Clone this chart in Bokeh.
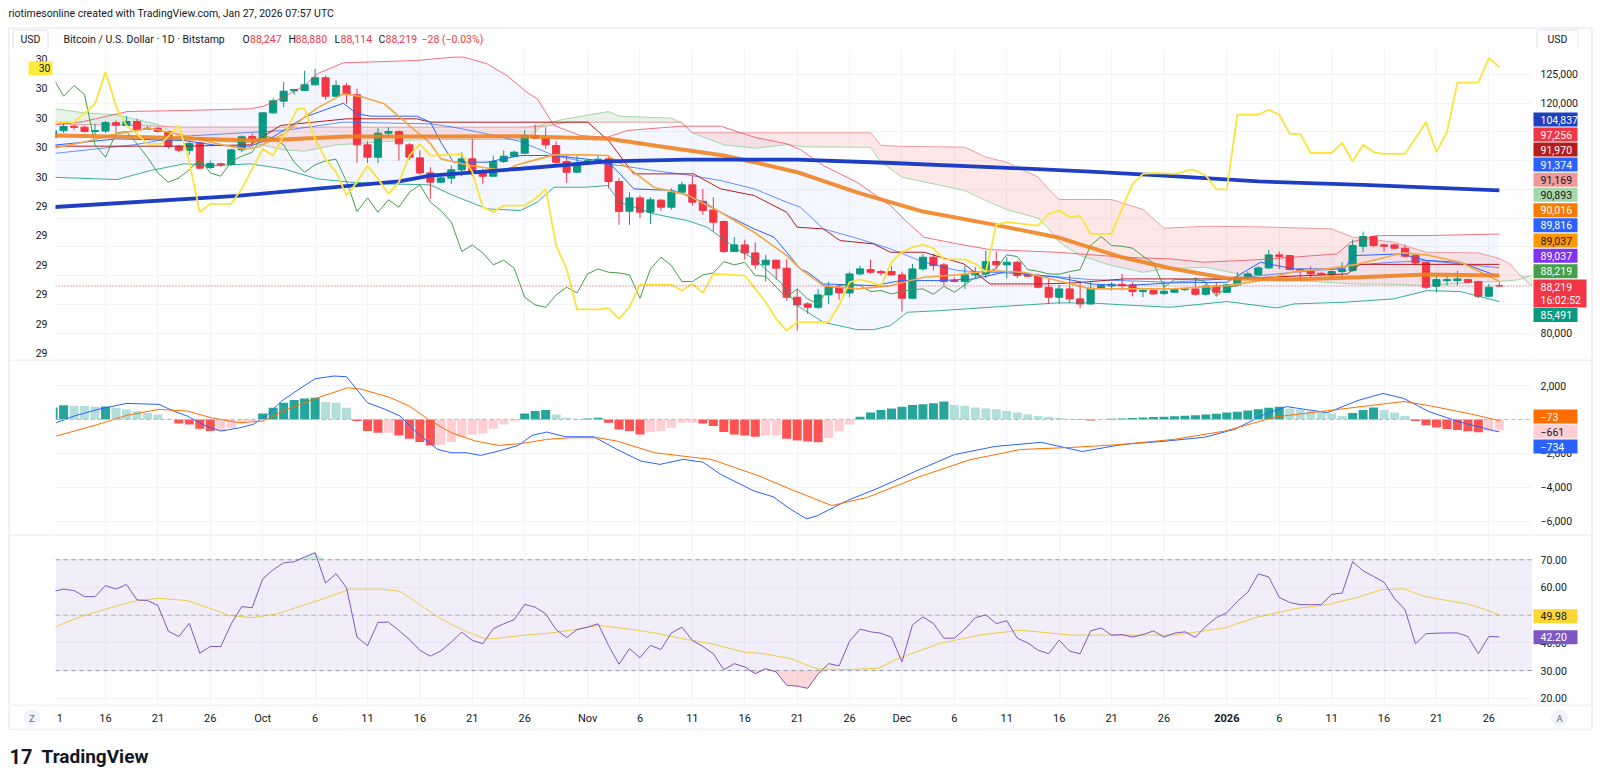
import numpy as np
from bokeh.plotting import figure
from bokeh.models import Range1d, FixedTicker, Span, Grid, BoxAnnotation
from bokeh.layouts import column, row
from bokeh.embed import file_html
from bokeh.resources import INLINE
from bokeh.core.properties import value

# ---------------- DATA (day index 0 = 11 Sep 2025 ... 138 = 27 Jan 2026) ----------------
opens = [
114000,115250,116000,115830,115100,115150,116600,116120,116820,115450,
115650,115080,112520,111800,113100,108810,109450,109330,111890,114200,
113920,118320,120350,122150,122210,123200,124410,121220,123020,121460,
112760,110610,114790,115080,112760,110490,107880,106260,106960,108410,
110320,108170,107300,109860,110780,111300,114380,113920,112640,109860,
108000,109620,109860,110320,106380,101210,103530,101040,103130,101910,
104520,105800,102950,101440,99420,94200,95360,93960,91880,92690,
91300,86250,85090,84510,86660,87990,87000,90310,91060,90720,
90720,90140,86080,91180,93210,91880,89210,88980,90140,90310,
92460,91880,92340,90310,90020,87990,86250,87700,85960,85090,
87820,88220,88510,88400,87240,87410,86900,87120,87580,87700,
86770,88160,87120,88400,89560,90200,91350,93620,93500,91060,
90830,90430,90140,90720,90890,95120,96810,95360,95360,94780,
93500,92340,88160,89150,89150,89320,88980,86420,88247]
highs = [
115300,116400,116250,116100,116400,116900,116990,117740,117280,116000,
115900,115150,112760,113510,113100,110030,109620,112060,114380,114730,
118440,120880,123660,122500,125630,125980,124820,123950,123540,122500,
113340,115660,115830,115250,113100,111770,108870,107300,109160,111480,
113800,108580,110900,111770,111770,115250,116240,115830,113340,111190,
110900,110320,110900,110610,106960,104520,103940,103650,103360,105220,
106380,107420,105100,103650,99590,96690,96280,95820,93620,92800,
92920,87700,85380,87700,88980,88280,90720,91760,92800,91060,
91640,90720,92050,93790,93790,92220,89730,91640,91470,94370,
94200,93210,92630,90600,90310,89560,88400,90140,88980,88860,
88400,88860,90310,88860,87700,87700,89000,87700,87900,89730,
88860,88860,88570,90600,90720,91640,94540,94200,93620,91300,
91640,90600,90890,92340,96280,97680,96980,95530,95530,95360,
93620,92460,90310,90020,90890,89440,89150,88570,88880]
lows = [
113700,114850,115300,114900,114400,114800,114850,116000,115250,115420,
114900,112060,111480,111020,108580,108580,108930,109160,111480,112520,
113800,118150,119310,121460,122150,123080,120640,121050,119890,109620,
109620,109620,114090,110030,110150,107540,103360,106090,105970,107300,
107300,105970,107130,109620,110610,111190,113900,112060,109160,106140,
107880,109450,109620,105220,98840,98840,100000,98990,101330,101500,
104400,102200,100580,97680,93960,94080,92800,91180,88980,89320,
85670,80450,83350,84220,85090,85840,86250,90020,90310,90020,
90020,83760,85960,90890,90890,88280,88860,87700,89560,89560,
91180,89560,89560,89730,87820,85090,85090,85260,84340,84920,
87700,87410,87410,86420,86250,86660,86600,87000,87350,86540,
86540,86540,87000,88280,89320,90020,91180,91180,90890,89150,
89560,90020,89900,90020,90720,94080,94950,94200,94660,93210,
91880,87700,87120,88280,88280,88740,86080,86250,88114]
closes = [
115200,115950,115800,115080,115250,116640,116180,116820,115420,115650,
115080,112520,111830,112990,108700,109510,109280,111890,114150,113800,
118320,120410,122090,122380,123200,124410,121220,123080,121510,112760,
110610,114790,115080,112930,110610,107880,106260,107010,108410,110320,
107880,107300,109860,110780,111480,114380,113920,112760,109740,107990,
109280,109970,110260,106380,101160,103530,101040,103190,101910,104520,
105800,102780,101330,99300,94200,95360,93960,91880,92690,91300,
86250,84920,84510,86660,87990,87000,90310,91180,90600,90480,
90140,86080,91180,93210,91760,88980,88980,90140,90480,92460,
91880,92340,90020,89900,87990,86250,87700,85960,85090,87820,
88280,88510,88280,87240,87410,86830,87300,87580,87700,86770,
88160,87120,88400,89730,90310,91350,93620,93330,91060,90770,
90310,90250,90720,91060,95240,96810,95240,95120,94780,93380,
92220,87990,89320,89320,89440,88860,86420,87990,88219]

# SMA 200 (thick blue) / SMA 50 (thick orange) / short MA (thin orange)
sma200_i = [-0.25, 17.6, 33, 36, 44.6, 52.9, 60.5, 71, 80, 89.4, 99, 106, 115, 125, 138]
sma200_v = [101900, 103900, 106400, 107400, 108600, 109900, 110200, 110200, 109600, 108900, 108100, 107400, 106400, 105800, 104837]
sma50_i = [-0.25, 9, 19, 22, 28, 36, 44.6, 53, 57.5, 64, 67, 71, 76.7, 83, 89.4, 95.8, 102, 106.6, 112, 118, 124.7, 131, 138]
sma50_v = [114400, 114100, 113500, 113700, 114200, 114200, 114260, 113800, 112600, 110900, 109700, 108000, 104500, 101150, 99010, 96700, 93200, 91300, 89560, 89330, 89730, 90190, 90016]
ma_i = [-0.25, 2.9, 6.1, 9.3, 12.5, 15.7, 18.2, 19.5, 22, 24, 25.2, 27.7, 29.6, 31.6, 34.7, 36, 37, 39.8, 43, 44.6,
        47.8, 50.9, 52.9, 54.8, 57.3, 60.5, 63.7, 66.9, 70, 71.3, 73.5, 76.7, 79.9, 83.1, 86.3, 89.4, 92.6, 95.8, 99, 106.6,
        112, 115.2, 118.4, 121.6, 124.1, 126.3, 128.8, 131.1, 134.3, 138]
ma_v = [112060, 113220, 114670, 115656, 114380, 112930, 112060, 112350, 114670, 117570, 119136, 121630, 121050, 119890, 115000, 113000, 110320, 109160, 108290, 109450,
        111016, 111016, 110900, 108870, 105390, 104056, 101040, 97560, 93500, 91180, 88280, 87700, 88280, 89730, 90136, 90890, 90600, 89150, 87700, 87700,
        88280, 89150, 90716, 91180, 91876, 92804, 93964, 93616, 92340, 89037]

# Bollinger Bands
bbu_i = [-0.25, 2.9, 7.1, 12.5, 18.8, 20.1, 22, 24, 25.2, 27.7, 34.7, 38.2, 39.2, 41.4, 43.3, 45.2, 46.2, 47.8, 50.3, 52.9,
         54.8, 59.9, 63.7, 66.9, 70, 71.3, 73.5, 76.7, 79.9, 81.5, 83.1, 86.3, 89.4, 95.8, 102.2, 106.6, 109.8, 115.2, 122.5, 123.8,
         126.3, 131.1, 138]
bbu_v = [116120, 116816, 118556, 118730, 119020, 119484, 121050, 123080, 125110, 127024, 127430, 128010, 128010, 126850, 124820, 121920, 120760, 116120, 114380, 114090,
         115250, 116000, 116000, 114090, 112930, 111944, 109160, 106260, 102200, 99300, 96690, 95530, 94544, 94080, 93210, 92920, 92340, 92804, 93790, 95820,
         96980, 96980, 97256]
bbm_i = [-0.25, 7.7, 12.5, 22, 27.7, 36, 38.2, 41.4, 44.6, 47.8, 50.9, 54.1, 57.3, 60.5, 63.7, 66.9, 70, 71.3, 73.5, 76.7,
         79.9, 83.1, 86.3, 92.6, 99, 106.6, 112, 118.4, 122.5, 123.5, 127.9, 131.1, 138]
bbm_v = [111190, 112756, 114264, 115250, 116700, 116410, 115830, 114670, 113336, 110900, 109740, 109160, 108290, 107536, 106550, 105100, 102780, 101910, 98140, 96516,
         94660, 92340, 90890, 90310, 89324, 88860, 89440, 90600, 91180, 91760, 92340, 92630, 91374]
bbl_i = [-0.25, 6.1, 9.3, 12.5, 15.7, 18.8, 22, 25.2, 28.4, 31.6, 36, 38.2, 41.4, 44.6, 46.2, 47.8, 50.9, 52.9, 54.1, 57.3,
         60.5, 62.4, 63.7, 65.2, 66.9, 69.4, 71, 73.5, 76.7, 78.3, 79.9, 81.5, 84.7, 89.4, 95.8, 99, 102.2, 106.6, 112, 116.8,
         118.4, 123.2, 127.9, 131.1, 134.3, 138]
bbl_v = [107130, 106724, 108290, 109450, 109160, 109450, 108580, 106840, 106260, 105970, 105796, 103940, 101620, 101330, 102780, 105390, 105390, 105680, 102780, 100750,
         99590, 98430, 96690, 94660, 92920, 88860, 84800, 81900, 80624, 80624, 81320, 83640, 83930, 84510, 85264, 85264, 84916, 84510, 85496, 84394,
         85090, 85380, 85960, 87410, 87236, 85491]

# Ichimoku
tenkan_i = [-0.25, 6.1, 12.5, 15.7, 18.8, 20.7, 24, 27.7, 29, 30.3, 34.7, 36, 37, 38.2, 41.4, 44.6, 47.8, 52.9, 54.1, 55.4,
            59.2, 62.1, 63.7, 66.9, 68.8, 70, 71.3, 72, 73.5, 78.3, 80.9, 84.7, 87.9, 91, 92.6, 95.8, 99, 102.2, 106.6, 112,
            115.2, 118.4, 123.2, 124.1, 128.6, 131.1, 134.3, 138]
tenkan_v = [112640, 113800, 113510, 112640, 112524, 113800, 117570, 120006, 118150, 117744, 117744, 116700, 113220, 109740, 109740, 110900, 110900, 109856, 107710, 105100,
            104810, 102780, 101040, 98140, 96690, 94080, 91180, 90600, 88570, 88280, 89150, 89150, 89440, 90716, 90310, 89730, 88570, 88280, 88744, 88860,
            92340, 91180, 91180, 93500, 93790, 92630, 92340, 89816]
kijun_i = [-0.25, 12.5, 18.8, 21.7, 28, 34.7, 36, 51, 53, 55.4, 61.1, 63.7, 66.9, 70, 71, 73.5, 75.1, 78.3, 79.9, 83.1,
           86.9, 89.4, 94.5, 97.4, 102.2, 112, 123.5, 124.7, 138]
kijun_v = [112524, 112524, 112756, 116120, 117280, 117280, 116700, 116700, 113510, 107710, 107710, 105100, 103940, 101040, 98430, 98140, 96110, 95530, 94080, 94080,
           92050, 88570, 88570, 88744, 89440, 89440, 90310, 91970, 91970]
cloud_i = [0, 3, 6, 10, 12, 16, 19, 22, 24, 27, 30, 33, 36, 40, 45, 47, 49, 53, 54, 59,
           60, 61, 64, 67, 70, 72, 78, 79, 81, 87, 89, 91, 94, 95, 96, 98, 99, 101, 104, 106,
           110, 115, 122, 124, 128, 131, 136, 138, 139, 140, 141, 142]
span_a = [119100, 118300, 118000, 116300, 114300, 113300, 113100, 111900, 111650, 112750, 113100, 113500, 113700, 113700, 113700, 116500, 117300, 118550, 117750, 117400,
          116500, 114850, 112750, 112180, 112800, 112400, 112350, 109740, 107130, 104810, 103070, 101504, 99996, 98140, 95820, 93500, 92920, 91760, 90600, 91200,
          91470, 89556, 88800, 88570, 88500, 88280, 88900, 89000, 89150, 89324, 90020, 90020]
span_b = [116400, 116300, 116200, 116000, 115830, 115830, 115830, 115830, 115830, 115830, 115830, 115830, 115830, 115830, 115830, 116000, 116700, 116700, 116700, 116700,
          116700, 114850, 114850, 114850, 114850, 114850, 114850, 112640, 112500, 112350, 110610, 109740, 107130, 105000, 103244, 103244, 103244, 103244, 101504, 98256,
          98600, 98500, 98140, 96690, 95820, 94080, 93964, 93000, 92050, 90020, 88396, 88000]
LAG = 25  # lagging span = closes shifted back 25 bars

# yellow overlay line (left scale)
yel_i = [-0.25, 2, 4, 5, 6.1, 7, 8, 9, 10.3, 12, 13, 14, 15, 17, 18, 20, 21, 22, 23.3, 24,
         25, 26, 27, 28, 29, 30, 31, 32, 33, 34, 35, 36, 38, 39, 40, 41, 42, 43, 45, 46,
         47, 48, 49, 50, 52, 53, 54, 55, 56, 59, 60, 61, 62, 63, 66, 67, 68, 69, 70, 71,
         74, 75, 76, 77, 78, 79, 80, 81, 82, 83, 84, 85, 87, 88, 89, 90, 91, 94, 95, 96,
         97, 98, 99, 101, 102, 103, 104, 105, 107, 108.8, 110, 111, 112, 113, 115, 116, 117, 118, 119, 120,
         122, 123, 124, 125, 126, 127, 129, 130, 131, 132, 133, 134, 136, 137, 138]
yel_v = [30.185, 30.185, 30.247, 30.355, 30.230, 30.174, 30.145, 30.111, 30.111, 30.174, 30.049, 29.879, 29.907, 29.907, 29.958, 30.094, 30.071, 30.140, 30.230, 30.232,
         30.128, 30.060, 30.015, 29.935, 29.981, 30.037, 29.992, 29.941, 29.981, 30.071, 30.111, 30.071, 30.074, 30.077, 30.015, 29.896, 29.879, 29.901, 29.901, 29.924,
         29.958, 29.765, 29.686, 29.548, 29.548, 29.552, 29.516, 29.556, 29.632, 29.632, 29.612, 29.635, 29.604, 29.669, 29.663, 29.618, 29.573, 29.516, 29.476, 29.505,
         29.505, 29.561, 29.641, 29.650, 29.641, 29.629, 29.709, 29.743, 29.760, 29.768, 29.756, 29.718, 29.718, 29.703, 29.675, 29.836, 29.845, 29.833, 29.873, 29.884,
         29.862, 29.867, 29.805, 29.805, 29.890, 29.975, 30.009, 30.012, 30.009, 30.024, 30.003, 29.956, 29.956, 30.210, 30.210, 30.227, 30.210, 30.145, 30.145, 30.080,
         30.080, 30.115, 30.051, 30.108, 30.083, 30.077, 30.077, 30.130, 30.185, 30.083, 30.151, 30.319, 30.319, 30.403, 30.372]

# MACD
macd_i = [0.3, 2, 4.3, 7, 10.1, 11.5, 12.8, 14.6, 16, 17.8, 19.1, 20.5, 21.8, 23.2, 25, 26.8, 28, 30, 31.7, 33.1,
          34.9, 36.7, 38, 39.4, 40.8, 42.5, 44.4, 45.7, 47.1, 48.9, 51.6, 53.8, 56.1, 57.9, 60.1, 62, 63.7, 66.9, 68.7, 70.4,
          71.9, 72.9, 75.8, 78.7, 82.6, 86, 89.9, 94.3, 98.2, 102.1, 106, 109.9, 112.8, 115.7, 117.7, 121.6, 124.5, 126.9, 128.9, 131.3,
          134.2, 137.6, 138]
macd_v = [-197, 197, 590, 944, 885, 492, 197, -393, -688, -492, -295, 295, 1082, 1672, 2400, 2557, 2518, 984, 590, 197,
          -885, -1770, -1967, -1967, -2124, -1869, -1534, -944, -747, -1023, -1023, -1770, -2459, -2655, -2360, -2518, -3246, -4229, -4563, -5311,
          -5870, -5688, -4785, -4063, -2979, -2076, -1594, -1352, -1895, -1473, -1292, -1051, -572, 332, 755, 395, 1115, 1534, 1233, 454,
          -148, -690, -734]
signal_i = [0.3, 4.3, 7, 10.1, 12.8, 15.1, 17.8, 20, 22.3, 25, 28.1, 29.5, 32.2, 34, 35.8, 38, 40.3, 42.5, 44.8, 47.1,
            49.3, 52, 53.8, 57.4, 60.6, 62.8, 65.1, 67.4, 70.4, 74.3, 77.7, 82.6, 87.5, 92.3, 97.2, 102.1, 107, 111.8, 116.7, 121.6,
            126.4, 128.9, 131.3, 135.2, 138]
signal_v = [-984, -295, 236, 590, 492, 98, -197, -98, 590, 1220, 1869, 1770, 1279, 787, 0, -787, -1279, -1534, -1416, -1180,
            -1082, -1082, -1279, -1967, -2203, -2360, -2852, -3344, -4131, -5086, -4602, -3398, -2378, -1776, -1652, -1473, -1174, -690, 153, 513,
            873, 1056, 814, 332, -73]
hist = [
700, 830, 800, 787, 740, 760, 688, 590, 492, 393,
295, 20, -236, -295, -551, -688, -688, -492, -236, -98,
354, 688, 984, 1141, 1239, 1279, 1023, 984, 688, -98,
-688, -787, -787, -944, -1141, -1337, -1534, -1495, -1337, -1023,
-885, -826, -551, -295, -98, 354, 492, 551, 295, 98,
39, 59, 98, -197, -590, -688, -885, -747, -688, -492,
-197, -197, -236, -393, -747, -885, -944, -1023, -944, -944,
-1141, -1250, -1300, -1350, -1100, -700, -300, 150, 400, 550,
650, 750, 850, 900, 950, 1050, 850, 800, 700, 650,
600, 500, 400, 300, 200, 150, 80, 30, -40, -60,
-30, 40, 60, 80, 110, 140, 160, 190, 220, 250,
290, 340, 400, 450, 520, 600, 680, 750, 650, 580,
480, 420, 350, 200, 380, 560, 700, 550, 400, 200,
-100, -350, -480, -560, -620, -700, -760, -680, -661]

# RSI
rsi = [
58.6, 59.4, 58.9, 56.7, 56.7, 60.7, 59.4, 61.1, 55.5, 55.3,
53.5, 44.2, 42.3, 47.1, 36.3, 38.7, 38.7, 46.9, 53.1, 52.7,
63.1, 66.4, 68.9, 69.3, 71.0, 72.6, 61.6, 65.0, 59.9, 42.1,
39.0, 47.4, 47.5, 44.5, 41.2, 37.3, 35.2, 37.1, 40.3, 43.9,
40.9, 39.7, 45.1, 46.9, 48.4, 53.9, 52.9, 50.5, 44.8, 41.9,
44.8, 45.7, 46.9, 39.1, 32.3, 37.9, 34.7, 39.1, 37.6, 43.6,
45.7, 40.9, 38.7, 36.1, 30.3, 32.5, 31.3, 28.9, 30.7, 29.5,
24.7, 24.4, 23.6, 28.8, 32.5, 31.7, 40.6, 45.0, 44.0, 43.5,
42.0, 33.2, 46.5, 49.4, 47.0, 41.7, 41.7, 45.0, 49.1, 50.1,
47.0, 48.0, 41.7, 40.0, 37.3, 36.1, 41.0, 37.0, 36.1, 44.3,
45.4, 42.8, 43.0, 42.1, 43.0, 44.3, 42.1, 43.5, 44.0, 42.0,
46.0, 49.1, 50.9, 55.0, 58.3, 64.9, 63.8, 56.4, 54.6, 53.8,
53.8, 53.8, 57.5, 58.0, 69.3, 66.0, 64.0, 61.9, 56.0, 52.0,
39.7, 43.3, 43.5, 43.6, 43.6, 42.3, 36.1, 42.3, 42.2]
rsima_i = [0.3, 2.5, 5.1, 7.7, 10, 12.8, 15.1, 16.8, 19, 21.4, 23.8, 26, 28.3, 31.4, 33.1, 34.9, 36.7, 39, 41.2, 42.1,
           44.8, 47.5, 49.8, 52, 54.7, 57.4, 60.1, 62.8, 65.9, 67.8, 70.4, 72.9, 75.8, 78.7, 80.6, 84.6, 88.4, 92.3, 97.2, 102.1,
           107, 111.8, 114.7, 118.6, 121.6, 124.5, 126.7, 128.9, 130.8, 133, 134.9, 136.5, 138]
rsima_v = [45.9, 49.3, 52.3, 55.0, 56.1, 55.3, 52.3, 49.9, 49.1, 50.5, 53.5, 56.2, 59.4, 59.4, 58.6, 54.1, 49.3, 44.8, 41.5, 41.5,
           42.7, 43.6, 44.8, 46.3, 45.1, 43.6, 41.5, 39.7, 36.7, 36.1, 34.3, 30.6, 30.4, 30.8, 34.3, 39.8, 42.8, 44.6, 42.8, 42.8,
           42.8, 45.4, 49.1, 52.4, 53.8, 56.4, 59.2, 59.5, 56.8, 55.3, 54.1, 52.3, 49.98]

# ticks / labels (first label is the clipped "11" that shows only as "1" at the pane edge)
x_ticks = [0, 5, 10, 15, 20, 25, 30, 35, 40, 45, 51, 56, 61, 66, 71, 76, 81, 86, 91, 96, 101, 106, 112, 117, 122, 127, 132, 137]
x_labels = ["1", "16", "21", "26", "Oct", "6", "11", "16", "21", "26", "Nov", "6", "11", "16", "21", "26", "Dec",
            "6", "11", "16", "21", "26", "2026", "6", "11", "16", "21", "26"]
YEAR_TICK = 112
price_grid = [80000, 85000, 90000, 95000, 100000, 105000, 110000, 115000, 120000, 125000]
price_labels = {125000: "125,000", 120000: "120,000", 80000: "80,000"}
left_ticks = [29.4, 29.5, 29.6, 29.7, 29.8, 29.9, 30.0, 30.1, 30.2, 30.3, 30.4]
left_labels = ["29", "29", "29", "29", "29", "29", "30", "30", "30", "30", "30"]
macd_grid = [-6000, -4000, -2000, 2000]
macd_labels = {2000: "2,000", -2000: "\u22122,000", -4000: "\u22124,000", -6000: "\u22126,000"}
rsi_grid = [20, 30, 40, 50, 60, 70]
rsi_labels = {70: "70.00", 60: "60.00", 40: "40.00", 30: "30.00", 20: "20.00"}

# value tags (text, background, text colour)
main_tags = [("104,837", "#1E3FBF", "white"), ("97,256", "#F23645", "white"), ("91,970", "#B71C1C", "white"),
             ("91,374", "#2962FF", "white"), ("91,169", "#EF9A9A", "#131722"), ("90,893", "#A5D6A7", "#131722"),
             ("90,016", "#F57C00", "white"), ("89,816", "#2962FF", "white"), ("89,037", "#FF9800", "#131722"),
             ("89,037", "#8033F0", "white"), ("88,219", "#43A047", "white")]
macd_tags = [("\u221273", "#FF6D00", "white"), ("\u2212661", "#FFCDD2", "#131722"), ("\u2212734", "#2962FF", "white")]
rsi_tags = [("49.98", "#FDD835", "#131722"), ("42.20", "#7E57C2", "white")]

# ---------------- STYLE / GEOMETRY ----------------
FONT = "Roboto"
TXT = "#131722"
GRIDC = "#F0F3FA"
EDGE = "#E0E3EB"
UP, DN = "#089981", "#F23645"
WL, WP, WR = 55, 1477, 68          # left scale / plot / right scale widths
PXD = 10.48                        # px per day
X0 = 0.23
X1 = X0 + WP / PXD
K_M = (129513 - 75600) / 310.0     # price per px
MAIN_HI = 129513
LEFT_HI, K_L = 30.4354, (30.4354 - 29.381) / 310.0
MACD_HI, K_D = 3534, 10266 / 174.0
K_R = (78.77 - 17.76) / 169.0
RSI_HI = 78.77 + K_R


def ym(py):
    return MAIN_HI - (py - 48) * K_M


def yl(py):
    return LEFT_HI - (py - 48) * K_L


def yd(py):
    return MACD_HI - (py - 359) * K_D


def yr(py):
    return RSI_HI - (py - 534) * K_R


xr = Range1d(X0, X1)


def clean(p):
    p.outline_line_color = None
    p.background_fill_color = "white"
    p.border_fill_color = "white"
    p.center = [r for r in p.center if not isinstance(r, Grid)]
    return p


def side(w, h, lo, hi, x_range=None):
    return clean(figure(width=w, height=h, x_range=x_range if x_range is not None else Range1d(0, w),
                        y_range=Range1d(lo, hi), output_backend="svg", toolbar_location=None, title=None,
                        x_axis_location=None, y_axis_location=None, min_border=0))


def pane(h, lo, hi, grid_ticks):
    p = side(WP, h, lo, hi, x_range=xr)
    p.add_layout(Grid(dimension=0, ticker=FixedTicker(ticks=x_ticks), grid_line_color=GRIDC))
    p.add_layout(Grid(dimension=1, ticker=FixedTicker(ticks=grid_ticks), grid_line_color=GRIDC))
    return p


def txt(p, xs, ys, ss, color=TXT, size="10.5px", align="left", bold=False):
    p.text(x=list(xs), y=list(ys), text=list(ss), text_font=value(FONT), text_font_size=value(size),
           text_color=color, text_align=align, text_baseline="middle",
           text_font_style="bold" if bold else "normal")


def tags(p, items, centers, conv, x_left=1, x_right=45, half=7):
    for (t, bg, fg), py in zip(items, centers):
        p.quad(left=[x_left], right=[x_right], top=[conv(py - half)], bottom=[conv(py + half)],
               fill_color=bg, line_color=None)
        txt(p, [8], [conv(py)], [t], color=fg)


idx = np.arange(len(closes))
o, h, l, c = map(np.array, (opens, highs, lows, closes))
col = np.where(c >= o, UP, DN)

# ---------------- HEADER ----------------
hd = side(1600, 48, 48, 0)
hd.segment(x0=[8.5, 8.5, 1591.5], y0=[27.5, 27.5, 27.5], x1=[1591.5, 8.5, 1591.5], y1=[27.5, 48, 48], line_color=EDGE)
txt(hd, [8], [12.5], ["riotimesonline created with TradingView.com, Jan 27, 2026 07:57 UTC"])
hd.quad(left=[12.5, 1536.5], right=[47.5, 1577.5], top=[29.5, 29.5], bottom=[48, 48],
        fill_color="white", line_color=EDGE)
txt(hd, [30, 1557], [39, 39], ["USD", "USD"], align="center")
legend_parts = [("Bitcoin / U.S. Dollar \u00b7 1D \u00b7 Bitstamp", 63, TXT), ("O", 242, TXT), ("88,247", 249.5, DN),
                ("H", 288, TXT), ("88,880", 295, DN), ("L", 334, TXT), ("88,114", 340, DN),
                ("C", 378, TXT), ("88,219", 385, DN), ("\u221228 (\u22120.03%)", 421, DN)]
for t, xp, colr in legend_parts:
    txt(hd, [xp], [38.5], [t], color=colr)

# ---------------- MAIN PANE ----------------
pm = pane(311, ym(359), MAIN_HI, price_grid)
pm.extra_y_ranges = {"left": Range1d(yl(359), LEFT_HI)}
pm.patch(x=bbu_i + bbl_i[::-1], y=bbu_v + bbl_v[::-1], fill_color="#2962FF", fill_alpha=0.05, line_color=None)
ci, a, b = np.array(cloud_i, float), np.array(span_a, float), np.array(span_b, float)
pm.varea(x=ci, y1=b, y2=np.maximum(a, b), fill_color="#43A047", fill_alpha=0.13)
pm.varea(x=ci, y1=a, y2=np.maximum(a, b), fill_color="#F44336", fill_alpha=0.12)
pm.line(ci, a, line_color="#A5D6A7", line_width=1)
pm.line(ci, b, line_color="#EF9A9A", line_width=1)
pm.add_layout(Span(location=closes[-1], dimension="width", line_color=DN, line_dash="1 2", line_width=1))
pm.segment(x0=idx, y0=l, x1=idx, y1=h, line_color=col, line_width=1)
pm.vbar(x=idx, top=np.maximum(o, c), bottom=np.minimum(o, c), width=0.68, fill_color=col, line_color=col)
pm.line(bbu_i, bbu_v, line_color="#F23645", line_alpha=0.7, line_width=1)
pm.line(bbl_i, bbl_v, line_color="#089981", line_alpha=0.8, line_width=1)
pm.line(bbm_i, bbm_v, line_color="#2962FF", line_alpha=0.7, line_width=1)
pm.line(kijun_i, kijun_v, line_color="#B71C1C", line_width=1)
pm.line(tenkan_i, tenkan_v, line_color="#2962FF", line_width=1)
pm.line(idx[LAG:] - LAG, c[LAG:], line_color="#43A047", line_width=1)
pm.line(ma_i, ma_v, line_color="#F5A742", line_width=1.6)
pm.line(sma50_i, sma50_v, line_color="#EF7F1F", line_alpha=0.88, line_width=4)
pm.line(sma200_i, sma200_v, line_color="#1E3FC4", line_width=3.8)
pm.line(yel_i, yel_v, line_color="#FBE33B", line_width=1.8, y_range_name="left")

ml = side(WL, 311, yl(359), LEFT_HI)
ml.segment(x0=[8.5], y0=[yl(48)], x1=[8.5], y1=[yl(359)], line_color=EDGE)
txt(ml, [47] * len(left_ticks), left_ticks, left_labels, align="right")
ml.quad(left=[28], right=[52], top=[yl(61)], bottom=[yl(74.5)], fill_color="#FFEB3B", line_color=None)
txt(ml, [50], [yl(67.7)], ["30"], align="right")

mr = side(WR, 311, ym(359), MAIN_HI)
mr.segment(x0=[59.5], y0=[ym(48)], x1=[59.5], y1=[ym(359)], line_color=EDGE)
txt(mr, [8] * 3, list(price_labels.keys()), list(price_labels.values()))
tags(mr, main_tags, [119, 134, 149, 164, 179.3, 194.3, 209.7, 224.7, 240, 255.3, 270.7], ym)
mr.quad(left=[1], right=[54], top=[ym(279)], bottom=[ym(307)], fill_color=DN, line_color=None)
txt(mr, [8, 8], [ym(286.5), ym(300)], ["88,219", "16:02:52"], color="white")
tags(mr, [("85,491", "#089981", "white")], [314.5], ym)

# ---------------- MACD PANE ----------------
pd_ = pane(175, yd(534), MACD_HI, macd_grid)
hcol = []
for k, v in enumerate(hist):
    prev = hist[k - 1] if k > 0 else v
    if v >= 0:
        hcol.append("#26A69A" if v >= prev else "#B2DFDB")
    else:
        hcol.append("#FF5252" if v < prev else "#FFCDD2")
pd_.add_layout(Span(location=yd(359.5), dimension="width", line_color=EDGE, line_width=1))
pd_.vbar(x=idx, top=hist, bottom=0, width=0.86, fill_color=hcol, line_color=None)
pd_.add_layout(Span(location=0, dimension="width", line_color="#B2B5BE", line_dash="4 3", line_width=1))
pd_.line(macd_i, macd_v, line_color="#2962FF", line_width=1)
pd_.line(signal_i, signal_v, line_color="#FF6D00", line_width=1)

dl = side(WL, 175, yd(534), MACD_HI)
dl.segment(x0=[8.5, 8.5], y0=[yd(359), yd(359.5)], x1=[8.5, WL], y1=[yd(534), yd(359.5)], line_color=EDGE)
dr = side(WR, 175, yd(534), MACD_HI)
dr.segment(x0=[59.5, 0], y0=[yd(359), yd(359.5)], x1=[59.5, 59.5], y1=[yd(534), yd(359.5)], line_color=EDGE)
txt(dr, [8] * 4, list(macd_labels.keys()), list(macd_labels.values()))
tags(dr, macd_tags, [416, 431, 446], yd)

# ---------------- RSI PANE ----------------
pr = pane(170, yr(704), RSI_HI, rsi_grid)
pr.add_layout(Span(location=yr(534.5), dimension="width", line_color=EDGE, line_width=1))
pr.add_layout(BoxAnnotation(bottom=30, top=70, fill_color="#7E57C2", fill_alpha=0.1, line_color=None))
for lv in (70, 50, 30):
    pr.add_layout(Span(location=lv, dimension="width", line_color="#787B86", line_dash="4 4",
                       line_width=1, line_alpha=0.8 if lv != 50 else 0.5))
r = np.array(rsi)
pr.varea(x=idx, y1=np.minimum(r, 30), y2=30, fill_color="#F23645", fill_alpha=0.2)
pr.varea(x=idx, y1=70, y2=np.maximum(r, 70), fill_color="#089981", fill_alpha=0.2)
pr.line(rsima_i, rsima_v, line_color="#FDD835", line_width=1)
pr.line(idx, r, line_color="#7E57C2", line_width=1)

rl = side(WL, 170, yr(704), RSI_HI)
rl.segment(x0=[8.5, 8.5], y0=[yr(534), yr(534.5)], x1=[8.5, WL], y1=[yr(704), yr(534.5)], line_color=EDGE)
rrt = side(WR, 170, yr(704), RSI_HI)
rrt.segment(x0=[59.5, 0], y0=[yr(534), yr(534.5)], x1=[59.5, 59.5], y1=[yr(704), yr(534.5)], line_color=EDGE)
txt(rrt, [8] * 5, list(rsi_labels.keys()), list(rsi_labels.values()))
tags(rrt, rsi_tags, [615.7, 636.7], yr)

# ---------------- TIME AXIS ROW (y 704..728, pixel units from its top) ----------------
al = side(WL, 24, 24, 0)
al.segment(x0=[8.5, 8.5], y0=[0, 0.5], x1=[8.5, WL], y1=[24, 0.5], line_color=EDGE)
al.scatter(x=[31.5], y=[13.5], size=17, marker="circle", fill_color="#F0F3FA", line_color=None)
txt(al, [31.5], [13.5], ["Z"], color="#6A6D78", size="9.5px", align="center")
ta = side(WP, 24, 24, 0, x_range=xr)
ta.add_layout(Span(location=0.5, dimension="width", line_color=EDGE, line_width=1))
edge_x = X0 + 0.12                      # first (edge-clipped) label sits at the pane edge
pos = [max(t, edge_x) for t in x_ticks]
aligns = ["left" if t < edge_x else "center" for t in x_ticks]
for t, px_, s, al_ in zip(x_ticks, pos, x_labels, aligns):
    txt(ta, [px_], [13.5], [s], size="11px", align=al_, bold=(t == YEAR_TICK))
ar = side(WR, 24, 24, 0)
ar.segment(x0=[59.5, 0], y0=[0, 0.5], x1=[59.5, 59.5], y1=[24, 0.5], line_color=EDGE)
ar.scatter(x=[27], y=[13.5], size=17, marker="circle", fill_color="#F0F3FA", line_color=None)
txt(ar, [27], [13.5], ["A"], color="#6A6D78", size="9.5px", align="center")

# ---------------- FOOTER (y 728..783) ----------------
ft = side(1600, 55, 55, 0)
ft.segment(x0=[8.5], y0=[0.5], x1=[1591.5], y1=[0.5], line_color=EDGE)
txt(ft, [9], [27.5], ["17"], size="20px", bold=True)
txt(ft, [41], [27.5], ["TradingView"], size="19px", bold=True)

layout = column(hd, row(ml, pm, mr), row(dl, pd_, dr), row(rl, pr, rrt), row(al, ta, ar), ft, spacing=0)
open("out.html", "w").write(file_html(layout, INLINE))
